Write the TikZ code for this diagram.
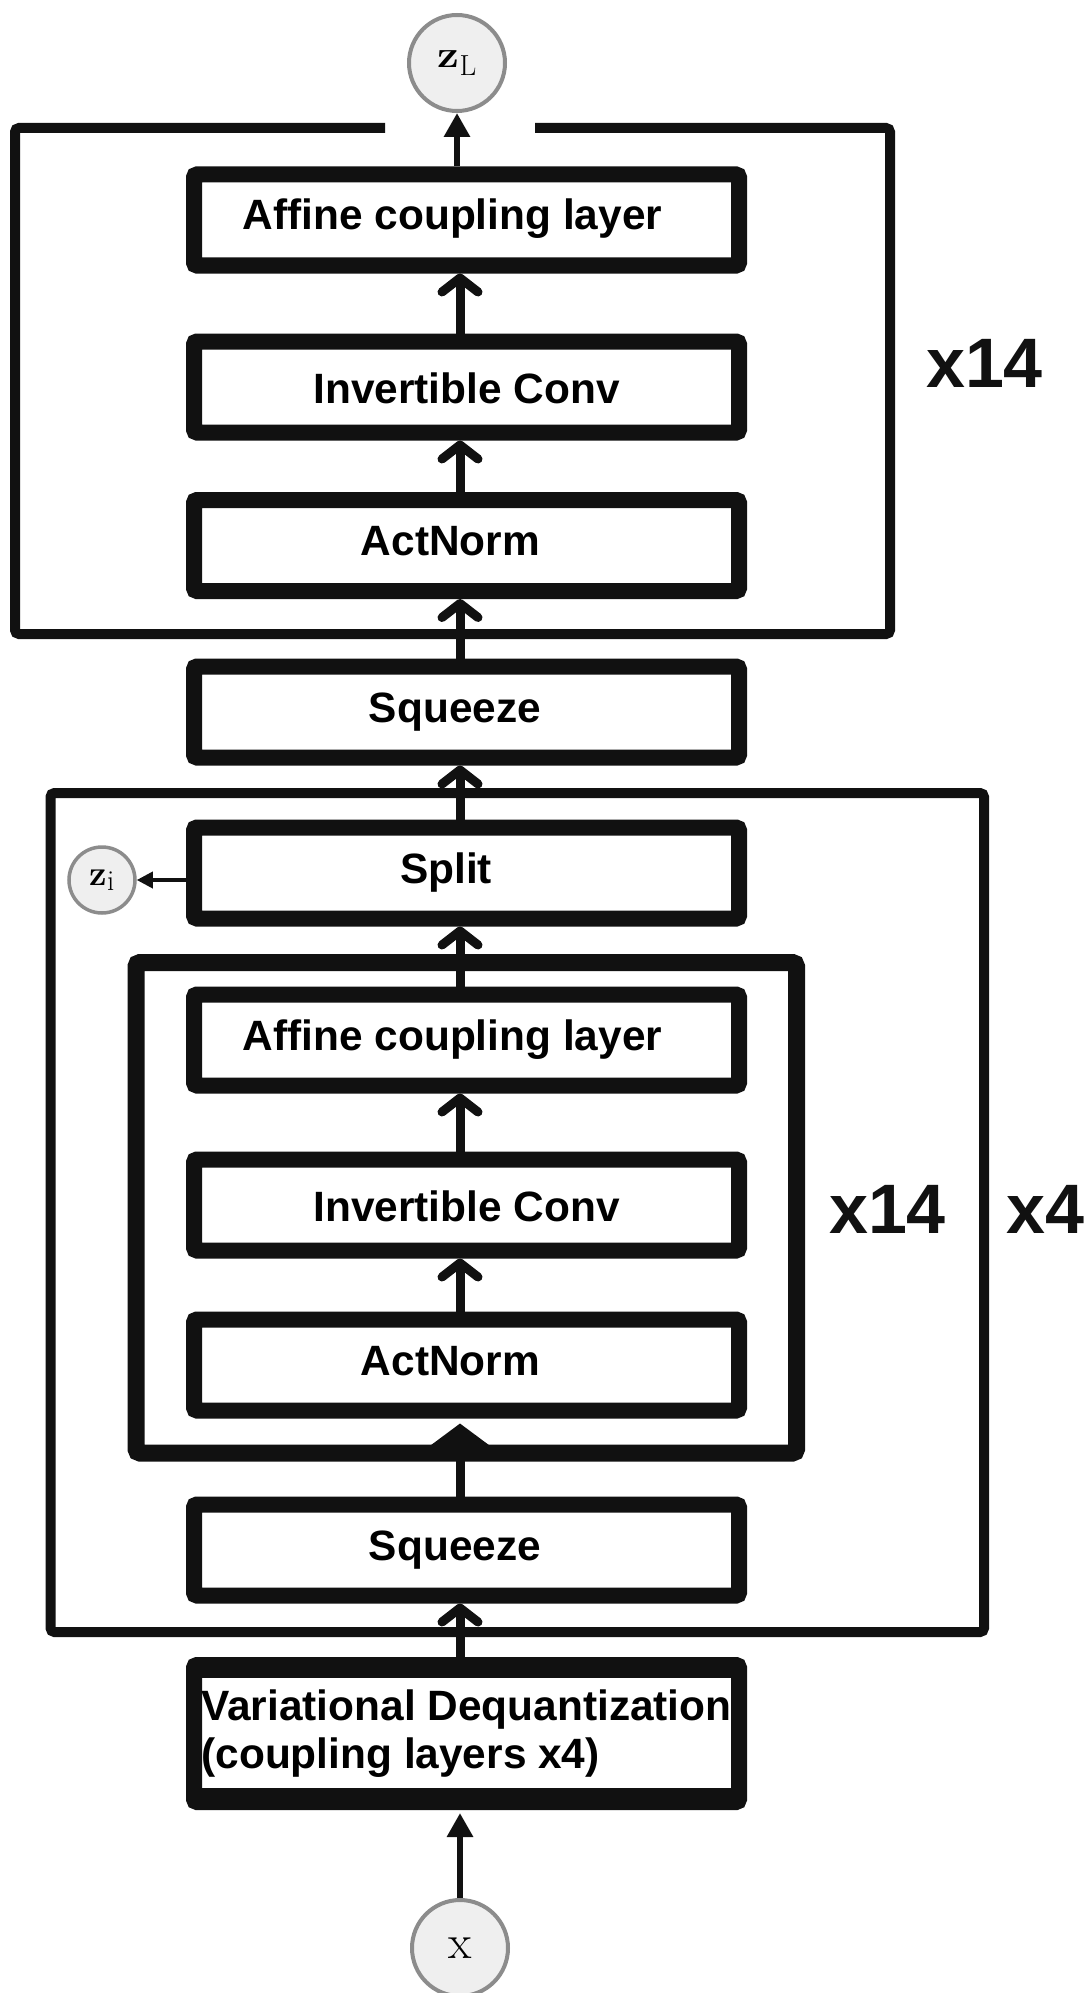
\documentclass[tikz,border=0pt]{standalone}
\usepackage{fontspec}
\setsansfont{Liberation Sans}
\usetikzlibrary{arrows.meta}
\definecolor{ink}{HTML}{111111}
\definecolor{cfill}{HTML}{EFEFEF}
\definecolor{cline}{HTML}{8C8C8C}
\newcommand\lblfont{\sffamily\bfseries\fontsize{42.4}{48}\selectfont}
\newcommand\repfont{\sffamily\bfseries\fontsize{70}{70}\selectfont}
\begin{document}
\begin{tikzpicture}[x=1pt,y=-1pt,
  blkbase/.style={draw=ink, fill=white, line width=16pt, rounded corners=3pt,
    minimum width=545pt, minimum height=91pt, inner sep=0pt, font=\lblfont},
  blk/.style={blkbase, text height=29pt, text depth=9pt},
  grp/.style={draw=ink, line width=10pt, rounded corners=4pt},
  var/.style={circle, draw=cline, fill=cfill, line width=4pt, inner sep=0pt, minimum size=96pt},
  chev/.style={draw=ink, line width=9pt, -{Straight Barb[length=14pt,width=36pt,round]}},
  tri/.style={draw=ink, line width=6.5pt, -{Triangle[length=24pt,width=25pt]}},
  bigtri/.style={draw=ink, line width=9pt, -{Triangle[length=22pt,width=58pt]}},
  smalltri/.style={draw=ink, line width=3.5pt, -{Triangle[length=16pt,width=16pt]}},
  rep/.style={font=\repfont, anchor=base, inner sep=0pt, text=ink},
]
\useasboundingbox (0,0) rectangle (1091,1993);

% group frames
\draw[grp] (385,128) -- (15,128) -- (15,634) -- (890,634) -- (890,128) -- (535,128);
\draw[grp] (50.5,793) rectangle (984,1632);
\draw[grp, line width=17pt] (136,962.5) rectangle (796.5,1453);

% blocks
\node[blk] (aff1) at (466.5,220) {\kern-28pt Affine coupling layer};
\node[blk, text height=41pt] (inv1) at (466.5,387) {Invertible Conv};
\node[blk] (act1) at (466.5,545.5) {\kern-32pt ActNorm};
\node[blk] (sq1) at (466.5,712) {\kern-23pt Squeeze};
\node[blk] (split) at (466.5,873) {\kern-41pt Split};
\node[blk] (aff2) at (466.5,1040) {\kern-28pt Affine coupling layer};
\node[blk, text height=41pt] (inv2) at (466.5,1205) {Invertible Conv};
\node[blk] (act2) at (466.5,1365) {\kern-32pt ActNorm};
\node[blk] (sq2) at (466.5,1550) {\kern-23pt Squeeze};
\node[blkbase, minimum height=137pt, align=left] (vd) at (466.5,1733.5)
  {Variational Dequantization\\(coupling layers x4)};
% thicker top and bottom border of the dequantization block
\fill[ink] ([yshift=-14pt]vd.north west) rectangle ([yshift=-21pt]vd.north east);
\fill[ink] ([yshift=14pt]vd.south west) rectangle ([yshift=22pt]vd.south east);

% repetition labels
\node[rep] (r1) at (984.5,387) {x14};
\node[rep] (r2) at (887.5,1233) {x14};
\node[rep] (r3) at (1045,1233) {x4};

% variables
\node[var] (zL) at (457,63)
  {\raisebox{4pt}{\fontsize{38}{38}\selectfont\scalebox{1.15}[1]{\bfseries z}}\raisebox{-4pt}{\fontsize{29}{29}\selectfont L}};
\node[var, minimum size=66pt, line width=3.5pt] (zi) at (102,880)
  {\fontsize{35}{35}\selectfont\bfseries z\raisebox{-5pt}{\fontsize{29}{29}\selectfont\mdseries i}};
\node[var] (xin) at (460,1948) {\fontsize{48}{48}\selectfont x};

% connectors
\draw[tri] (zL |- aff1.north) -- (zL.south);
\draw[chev] (xin |- inv1.north) -- (xin |- aff1.south);
\draw[chev] (xin |- act1.north) -- (xin |- inv1.south);
\draw[chev] (xin |- sq1.north) -- (xin |- act1.south);
\draw[chev] (xin |- split.north) -- (xin |- sq1.south);
\draw[chev] (xin |- aff2.north) -- (xin |- split.south);
\draw[chev] (xin |- inv2.north) -- (xin |- aff2.south);
\draw[chev] (xin |- act2.north) -- (xin |- inv2.south);
\draw[bigtri, shorten >=5pt] (xin |- sq2.north) -- (xin |- act2.south);
\draw[chev] (xin |- vd.north) -- (xin |- sq2.south);
\draw[tri, shorten >=3pt] (xin.north) -- (xin |- vd.south);
\draw[smalltri] (split.west |- zi) -- (zi.east);
\end{tikzpicture}
\end{document}
